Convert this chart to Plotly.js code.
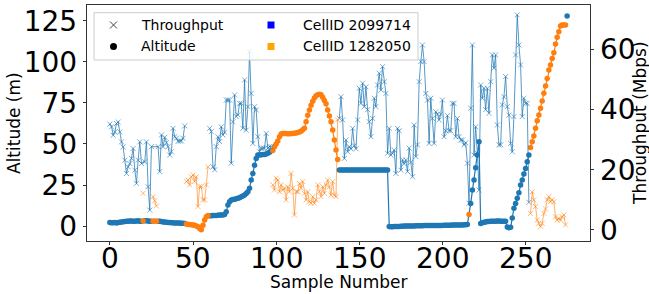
<!DOCTYPE html>
<html><head><meta charset="utf-8">
<script src="https://cdn.plot.ly/plotly-3.0.1.min.js"></script>
<style>html,body{margin:0;padding:0;background:#fff}#chart{width:649px;height:294px}</style>
</head><body><div id="chart"></div>
<script>
// ---------------- data ----------------
const cellNames = ['CellID 2099714', 'CellID 1282050'];
const cellColors = ['#1f77b4', '#ff7f0e'];
const cellSwatches = ['#0000ff', '#ffa500'];
const seriesNames = ['Throughput', 'Altitude'];
const xTicks = [0, 50, 100, 150, 200, 250];
const altTicks = [0, 25, 50, 75, 100, 125];
const thrTicks = [0, 20, 40, 60];
// serving cell per sample: [first sample, last sample, cell index]
const altCellRuns = [[0,19,0],[20,20,1],[21,25,0],[26,28,1],[29,45,0],[46,59,1],[60,97,0],[98,137,1],
                     [138,215,0],[216,216,1],[217,252,0],[253,274,1],[275,275,0]];
const thrCellRuns = [[0,19,0],[20,20,1],[21,25,0],[26,28,1],[29,45,0],[46,59,1],[60,97,0],[98,137,1],
                     [138,252,0],[253,274,1],[275,275,0]];
// altitude (m), one value per sample
const altitude = [
 2.2,2.0,2.0,2.1,1.9,2.1,2.3,2.5,2.6,2.8,2.9,3.0,3.1,3.1,3.0,3.0,3.1,3.2,3.0,2.9,
 3.1,
 3.2,3.3,3.1,3.0,3.0,
 3.0,3.1,3.0,
 3.0,2.9,2.7,2.5,2.4,2.3,2.2,2.1,2.0,2.0,1.9,1.9,1.8,1.8,1.7,1.7,1.6,
 1.2,1.0,0.9,0.8,0.7,0.5,0.1,-0.4,-1.5,-2.3,0.5,3.7,5.7,6.5,
 6.2,6.3,6.4,6.5,6.5,6.6,6.7,6.7,6.8,7.0, 8.7,12.8,14.8,15.8,16.1,16.3,16.6,16.9,17.3,17.8,
 18.3,18.9,19.8,20.9,23.0,28.0,32.0,37.0,41.2,43.2, 43.3,43.4,43.5,43.6,43.8,44.3,45.0,45.8,
 46.0,48.3,50.0,51.8,54.4,56.0,56.4,56.4,56.3,56.2, 56.2,56.3,56.4,56.5,56.6,56.9,57.3,57.8,58.6,59.5,
 63.5,67.5,70.6,73.5,76.0,78.0,79.4,80.0,80.3,80.0, 78.5,76.5,74.5,70.6,67.0,63.5,58.5,52.4,46.3,40.6,
 34.1,34.1,34.1,34.1,34.1,34.1,34.1,34.1,34.1,34.1, 34.1,34.1,34.1,34.1,34.1,34.1,34.1,34.1,34.1,34.1,
 34.1,34.1,34.1,34.1,34.1,34.1,34.1,34.1,34.1,34.1,
 -0.3,-0.4,-0.4,-0.3,-0.3,-0.2,-0.2,-0.1,-0.1,0.0, 0.0,0.0,0.1,0.1,0.1,0.1,0.2,0.2,0.2,0.2,
 0.2,0.3,0.3,0.3,0.3,0.3,0.3,0.4,0.4,0.4, 0.4,0.4,0.4,0.5,0.5,0.5,0.5,0.5,0.6,0.6,
 0.6,0.6,0.7,0.7,0.7,0.8,0.8,0.9,
 7.1,
 13.8,21.9,28.0,35.5,43.2,51.3,
 1.6,2.0,2.3,2.5,2.7,2.8,2.9,3.0,3.0,3.0,3.1,3.1,3.0,3.0,3.0,2.9,
 -0.5,-1.0,-0.8,
 4.9,10.8,13.8,16.9,20.3,25.0,28.0,31.7,35.1,39.2,43.2,
 47.9,51.3,54.8,59.5,64.1,67.6,71.7,76.1,80.8,85.3,89.9,95.0,98.1,102.1,105.5,110.8,114.9,118.3,121.8,122.4,122.4,122.4,
 127.9
];
// throughput (Mbps), one value per sample
const throughput = [
 35.2,34.3,31.5,32.6,35.4,35.9,32.6,29.3,27.6,23.2,18.8,21.0,22.1,23.8,27.1,19.9,15.5,23.2,29.3,22.1,
 12.2,
 22.7,29.3,14.4,6.6,27.7,
 11.1,9.7,8.0,
 27.7,19.4,31.6,27.7,30.8,29.0,27.7,24.9,26.0,33.8,31.0,30.5,29.5,29.6,29.6,30.5,34.6,
 16.1,16.6,15.0,17.7,18.3,16.1,17.7,7.8,14.4,14.4,10.0,10.0,15.0,21.0,
 33.8,32.7,21.0,20.0,27.7,31.0,29.4,34.3,31.6,32.5, 43.2,43.2,43.2,22.2,36.0,44.9,37.7,38.3,42.1,42.1,
 33.8,49.9,33.2,41.0,59.3,45.4,28.8,41.0,39.9,31.0, 26.0,27.2,27.2,27.2,32.1,27.2,27.7,27.7,
 15.0,13.3,17.2,16.6,12.7,15.0,13.3,13.9,10.0,14.4, 12.7,18.8,13.9,5.0,12.7,12.7,15.5,13.9,16.1,12.2,
 10.0,12.7,9.4,8.9,11.1,8.9,10.0,15.0,12.7,11.1, 14.4,12.2,15.0,16.6,14.4,11.6,16.1,11.6,11.1,36.6,
 37.1,44.3,36.6,23.8,29.9,26.0,27.7,27.0,33.8,28.0, 27.0,36.6,47.1,42.1,48.8,41.0,47.6,40.0,36.0,31.0,
 37.1,43.8,41.0,48.2,52.1,46.5,54.3,49.3,45.4,25.5,
 33.8,24.9,25.5,26.6,18.8,33.8,33.0,19.9,23.3,22.0, 23.3,19.4,27.2,22.5,17.7,34.9,24.4,28.3,49.3,56.0,
 61.5,56.0,45.4,43.2,28.8,43.8,37.1,28.8,39.3,38.5, 36.6,38.5,43.2,31.0,33.0,38.0,33.0,33.0,42.1,42.1,
 31.0,37.1,31.0,29.9,29.9,28.3,29.0,22.2,
 8.9,
 40.5,61.5,24.9,34.3,25.5,13.3,48.2,43.8,47.1,40.0, 47.1,38.8,49.3,58.2,53.8,58.2,34.9,28.3,28.3,41.6,
 44.3,51.0,41.0,38.2,28.8,26.0,37.7,58.2,71.5,61.5, 54.9,37.7,43.8,42.1,42.1,9.2,
 5.5,12.7,10.0,7.8,3.3,2.2,1.1,2.2,5.5,7.0,10.0,11.1,9.4,10.0,9.4,4.4,3.3,3.8,3.3,4.4,5.0,1.7,
 null
];

// ---------------- build ----------------
const n = altitude.length;
function cellArray(runs) {
  const a = new Array(n).fill(0);
  runs.forEach(([s, e, c]) => { for (let i = s; i <= e; i++) a[i] = c; });
  return a;
}
const altCell = cellArray(altCellRuns);
const thrCell = cellArray(thrCellRuns);
const MAX_GAP = 4;   // a cell's line bridges only brief hand-overs
function cellLine(vals, cells, c) {
  const xs = [], ys = [];
  let prev = -1;
  for (let i = 0; i < n; i++) {
    if (cells[i] !== c || vals[i] == null) continue;
    if (prev >= 0 && i - prev > MAX_GAP) { xs.push(null); ys.push(null); }
    xs.push(i); ys.push(vals[i]); prev = i;
  }
  return {x: xs, y: ys};
}
function pts(vals, cells, c) {
  const xs = [], ys = [];
  for (let i = 0; i < n; i++) if (cells[i] === c && vals[i] != null) { xs.push(i); ys.push(vals[i]); }
  return {x: xs, y: ys};
}
const thrLineCol = ['rgba(31,119,180,0.75)', 'rgba(255,127,14,0.6)'];
const thrMarkCol = ['rgba(31,119,180,0.6)', 'rgba(255,127,14,0.55)'];
const traces = [];
[0, 1].forEach(c => {
  const l = cellLine(altitude, altCell, c);
  traces.push({x: l.x, y: l.y, type: 'scatter', mode: 'lines', line: {color: cellColors[c], width: 1.2},
    hoverinfo: 'skip', showlegend: false});
  const p = pts(altitude, altCell, c);
  traces.push({x: p.x, y: p.y, type: 'scatter', mode: 'markers', name: seriesNames[1],
    marker: {symbol: 'circle', size: 5.5, color: cellColors[c]}, showlegend: false});
});
[0, 1].forEach(c => {
  const l = cellLine(throughput, thrCell, c);
  traces.push({x: l.x, y: l.y, yaxis: 'y2', type: 'scatter', mode: 'lines', line: {color: thrLineCol[c], width: 1},
    hoverinfo: 'skip', showlegend: false});
  const p = pts(throughput, thrCell, c);
  traces.push({x: p.x, y: p.y, yaxis: 'y2', type: 'scatter', mode: 'markers', name: seriesNames[0],
    marker: {symbol: 'x-thin-open', size: 5, color: thrMarkCol[c], line: {color: thrMarkCol[c], width: 1}},
    showlegend: false});
});

// ---------------- layout ----------------
const L = 87, R = 590, T = 5, B = 241;
const px = v => (v - L) / (R - L);
const py = v => (B - v) / (B - T);
const FONT = 'DejaVu Sans';
const TICK_SIZE = 28;
const axisCommon = {
  ticks: 'outside', ticklen: 3.5, tickwidth: 0.8, tickcolor: '#000',
  tickfont: {family: FONT, size: TICK_SIZE, color: '#000'},
  showline: true, linecolor: '#000', linewidth: 0.8, showgrid: false, zeroline: false, fixedrange: true
};
const shapes = [
  {type: 'rect', xref: 'paper', yref: 'paper', x0: px(94), x1: px(418), y0: py(60), y1: py(12.7),
   fillcolor: 'rgba(255,255,255,0.8)', line: {color: '#cccccc', width: 1}},
  {type: 'line', xref: 'paper', yref: 'paper', x0: px(110), x1: px(117), y0: py(21.5), y1: py(28.5),
   line: {color: '#444', width: 1}},
  {type: 'line', xref: 'paper', yref: 'paper', x0: px(110), x1: px(117), y0: py(28.5), y1: py(21.5),
   line: {color: '#444', width: 1}},
  {type: 'circle', xref: 'paper', yref: 'paper', x0: px(110), x1: px(117), y0: py(50), y1: py(43),
   fillcolor: '#000', line: {color: '#000', width: 0}},
  {type: 'rect', xref: 'paper', yref: 'paper', x0: px(267.5), x1: px(274.5), y0: py(28.5), y1: py(21.5),
   fillcolor: cellSwatches[0], line: {width: 0}},
  {type: 'rect', xref: 'paper', yref: 'paper', x0: px(267.5), x1: px(274.5), y0: py(50), y1: py(43),
   fillcolor: cellSwatches[1], line: {width: 0}}
];
const legText = (t, x, y) => ({text: t, xref: 'paper', yref: 'paper', x: px(x), y: py(y), xanchor: 'left',
  yanchor: 'middle', showarrow: false, font: {family: FONT, size: 14, color: '#000'}});
const annotations = [
  legText(seriesNames[0], 139, 25), legText(seriesNames[1], 139, 46.5),
  legText(cellNames[0], 301, 25), legText(cellNames[1], 301, 46.5),
  {text: 'Altitude (m)', xref: 'paper', yref: 'paper', x: px(14), y: py(123), textangle: -90,
   xanchor: 'center', yanchor: 'middle', showarrow: false, font: {family: FONT, size: 17, color: '#000'}},
  {text: 'Throughput (Mbps)', xref: 'paper', yref: 'paper', x: px(640), y: py(123), textangle: -90,
   xanchor: 'center', yanchor: 'middle', showarrow: false, font: {family: FONT, size: 17, color: '#000'}},
  {text: 'Sample Number', xref: 'paper', yref: 'paper', x: px(338.5), y: py(282),
   xanchor: 'center', yanchor: 'middle', showarrow: false, font: {family: FONT, size: 17, color: '#000'}}
];
// x tick labels drawn as annotations on the x data scale, just under the axis
xTicks.forEach(t => annotations.push({text: String(t), xref: 'x', yref: 'paper', x: t, y: py(258),
  xanchor: 'center', yanchor: 'middle', showarrow: false, font: {family: FONT, size: TICK_SIZE, color: '#000'}}));
const layout = {
  width: 649, height: 294,
  margin: {l: L, r: 649 - R, t: T, b: 294 - B, pad: 0},
  paper_bgcolor: '#fff', plot_bgcolor: '#fff',
  font: {family: FONT, color: '#000'},
  showlegend: false,
  xaxis: Object.assign({}, axisCommon, {range: [-13.75, 288.75], tickvals: xTicks, showticklabels: false, mirror: true}),
  yaxis: Object.assign({}, axisCommon, {range: [-9.1, 134.6], tickvals: altTicks, ticktext: altTicks.map(String)}),
  yaxis2: Object.assign({}, axisCommon, {range: [-3.66, 74.8], tickvals: thrTicks, ticktext: thrTicks.map(String),
    overlaying: 'y', side: 'right'}),
  shapes: shapes,
  annotations: annotations
};
Plotly.newPlot('chart', traces, layout, {displayModeBar: false, staticPlot: true});
</script>
</body></html>
